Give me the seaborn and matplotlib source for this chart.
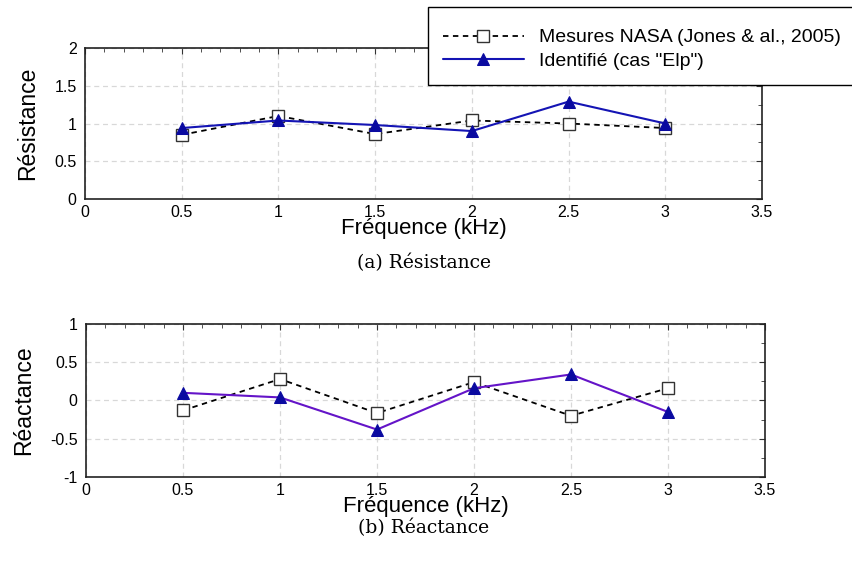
import numpy as np
import pandas as pd
import matplotlib
matplotlib.use("Agg")
import matplotlib.pyplot as plt
import seaborn as sns
from matplotlib.ticker import MultipleLocator, FuncFormatter

# frequencies (kHz)
freq = [0.5, 1.0, 1.5, 2.0, 2.5, 3.0]

# resistance
res_nasa = [0.85, 1.10, 0.86, 1.04, 1.00, 0.94]
res_ident = [0.94, 1.04, 0.98, 0.90, 1.29, 1.00]

# reactance
reac_nasa = [-0.13, 0.28, -0.165, 0.24, -0.20, 0.16]
reac_ident = [0.10, 0.04, -0.38, 0.16, 0.34, -0.15]

label_nasa = "Mesures NASA (Jones & al., 2005)"
label_ident = "Identifié (cas \"Elp\")"

sns.set_style("white")
plt.rcParams['font.family'] = ['Liberation Sans', 'DejaVu Sans']
plt.rcParams['text.color'] = 'black'
plt.rcParams['axes.labelcolor'] = 'black'
plt.rcParams['xtick.color'] = 'black'
plt.rcParams['ytick.color'] = 'black'

fig = plt.figure(figsize=(8.53, 5.65), dpi=100)
ax1 = fig.add_axes([0.0997, 0.6478, 0.7936, 0.2672])
ax2 = fig.add_axes([0.1008, 0.1558, 0.7960, 0.2708])

fmt = FuncFormatter(lambda v, p: f"{v:g}")


def draw(ax, nasa, ident, ident_color, ylabel, ylim):
    sns.lineplot(x=freq, y=nasa, ax=ax, color='black', linestyle=(0, (3, 2.5)),
                 linewidth=1.3, marker='s', markersize=8.5, markerfacecolor='white',
                 markeredgecolor='#333333', markeredgewidth=1.0, label=label_nasa,
                 legend=False)
    sns.lineplot(x=freq, y=ident, ax=ax, color=ident_color, linestyle='-',
                 linewidth=1.5, marker='^', markersize=9, markerfacecolor='#0a0aa0',
                 markeredgecolor='#0a0aa0', label=label_ident, legend=False)
    ax.set_xlim(0, 3.5)
    ax.set_ylim(*ylim)
    ax.xaxis.set_major_locator(MultipleLocator(0.5))
    ax.xaxis.set_minor_locator(MultipleLocator(0.1))
    ax.yaxis.set_major_locator(MultipleLocator(0.5))
    ax.yaxis.set_minor_locator(MultipleLocator(0.25))
    ax.xaxis.set_major_formatter(fmt)
    ax.yaxis.set_major_formatter(fmt)
    ax.tick_params(which='both', direction='in', top=True, right=True, labelsize=11.5,
                   color='#333333', labelcolor='black')
    ax.tick_params(axis='x', pad=4)
    ax.tick_params(axis='y', pad=6)
    ax.tick_params(which='major', length=4)
    ax.tick_params(which='minor', length=3)
    ax.grid(True, which='major', linestyle=(0, (4, 3)), color='#d8d8d8', linewidth=0.9)
    ax.set_axisbelow(True)
    for s in ax.spines.values():
        s.set_color('#222222')
        s.set_linewidth(1.2)
    ax.set_xlabel("Fréquence (kHz)", fontsize=16, labelpad=-1)
    ax.set_ylabel(ylabel, fontsize=16.5, labelpad=11)


draw(ax1, res_nasa, res_ident, '#1414b4', "Résistance", (0, 2))
draw(ax2, reac_nasa, reac_ident, '#6414c8', "Réactance", (-1, 1))

handles, labels = ax1.get_legend_handles_labels()
leg = fig.legend(handles, labels, loc='upper left', bbox_to_anchor=(0.5018, 0.9876),
                 fontsize=14, frameon=True, fancybox=False, edgecolor='black',
                 framealpha=1, handlelength=4.2, borderpad=0.75, labelspacing=0.32,
                 handletextpad=0.75, borderaxespad=0, title=' ', title_fontsize=1)
leg.get_frame().set_linewidth(1.0)

fig.text(0.497, 0.534, "(a) Résistance", ha='center', va='center', fontsize=13.5,
         family='DejaVu Serif')
fig.text(0.497, 0.065, "(b) Réactance", ha='center', va='center', fontsize=13.5,
         family='DejaVu Serif')

fig.savefig("out.png", dpi=100)
